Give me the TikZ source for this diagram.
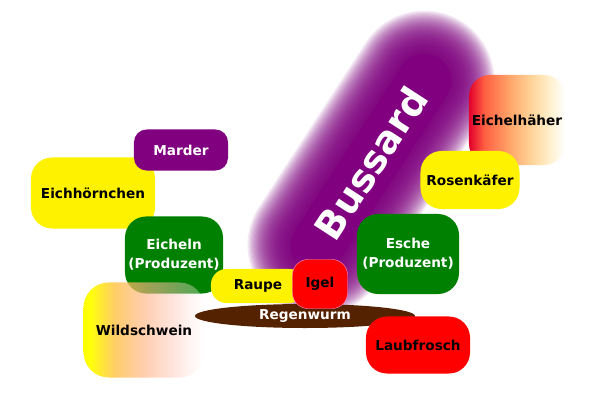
\documentclass[tikz,border=0pt]{standalone}
\usepackage{fontspec}
\setmainfont{DejaVu Sans}
\usetikzlibrary{shapes.geometric,fadings}
\definecolor{plum}{RGB}{128,0,128}
\definecolor{leaf}{RGB}{0,128,0}
\definecolor{soil}{RGB}{85,34,0}
\definecolor{crimson}{RGB}{225,0,45}
\definecolor{flame}{RGB}{255,95,65}
\definecolor{apricot}{RGB}{255,165,105}
\definecolor{sand}{RGB}{255,210,150}
\definecolor{cream}{RGB}{255,240,205}
\definecolor{honey}{RGB}{255,195,70}
\definecolor{peach}{RGB}{255,180,130}
\definecolor{blush}{RGB}{255,200,185}
\pgfdeclarehorizontalshading{jayshade}{100bp}{color(0bp)=(crimson); color(25bp)=(crimson);
  color(33bp)=(flame); color(46bp)=(apricot); color(57bp)=(sand); color(67bp)=(cream);
  color(75bp)=(white); color(100bp)=(white)}
\pgfdeclarehorizontalshading{boarshade}{100bp}{color(0bp)=(yellow); color(28bp)=(yellow);
  color(38bp)=(honey); color(50bp)=(peach); color(62bp)=(blush); color(75bp)=(white);
  color(100bp)=(white)}
\tikzfading[name=boarfade,left color=transparent!0,right color=transparent!70]
\tikzset{
  haze/.style={plum,fill opacity=0.075,rounded corners={(27+1.2*#1)*0.711pt}},
  box/.style={rectangle,fill=#1,rounded corners=15pt,inner sep=0pt,align=center,
    font=\fontsize{9.7}{13.5}\selectfont\bfseries},
  box/.default=yellow,
}
\begin{document}
\begin{tikzpicture}[x=0.025cm,y=-0.025cm]
  \useasboundingbox[fill=white] (0,0) rectangle (597,400);
  % Bussard with soft edge
  \begin{scope}[shift={(371,163)},rotate=57]
    \foreach \i in {36,...,1}
      \fill[haze=\i] ({-125-1.2*\i},{-27-1.2*\i}) rectangle ({125+1.2*\i},{27+1.2*\i});
  \end{scope}
  \node[rectangle,fill=plum,inner sep=0pt,rotate=57,minimum width=6.25cm,minimum height=1.35cm,
    rounded corners=0.67cm,text=white,font=\fontsize{27}{30}\selectfont\bfseries] (bussard) at (371,163) {Bussard};
  % right side
  \node[box=none,shade,shading=jayshade,minimum width=2.4cm,minimum height=2.25cm] (eichelhaeher) at (517,120) {Eichelhäher};
  \node[box,minimum width=2.475cm,minimum height=1.45cm] (rosenkaefer) at (470,180) {Rosenkäfer};
  % left side
  \node[box,minimum width=3.1cm,minimum height=1.775cm] (eichhoernchen) at (93,193) {Eichhörnchen};
  \node[box=plum,text=white,minimum width=2.35cm,minimum height=1.025cm,rounded corners=9pt] (marder) at (181,150) {Marder};
  \node[box=leaf,text=white,minimum width=2.45cm,minimum height=1.925cm] (eicheln) at (174,255) {Eicheln\\(Produzent)};
  \node[box=leaf,text=white,minimum width=2.55cm,minimum height=2cm] (esche) at (408,254) {Esche\\(Produzent)};
  \node[box=none,shade,shading=boarshade,path fading=boarfade,minimum width=3.025cm,minimum height=2.375cm,
    rounded corners=18pt] (wildschwein) at (144,330) {Wildschwein};
  % bottom
  \node[box,minimum width=2.35cm,minimum height=0.85cm,rounded corners=11pt] (raupe) at (258,286) {Raupe};
  \node[ellipse,fill=soil,text=white,inner sep=0pt,minimum width=5.5cm,minimum height=0.6cm,
    font=\fontsize{9.7}{12}\selectfont\bfseries] (regenwurm) at (305,316) {Regenwurm};
  \node[box=red,draw=magenta!45!white,line width=0.3pt,minimum width=1.375cm,minimum height=1.225cm,
    rounded corners=11pt] (igel) at (320,284) {Igel};
  \node[box=red,minimum width=2.6cm,minimum height=1.425cm] (laubfrosch) at (418,345) {Laubfrosch};
\end{tikzpicture}
\end{document}
